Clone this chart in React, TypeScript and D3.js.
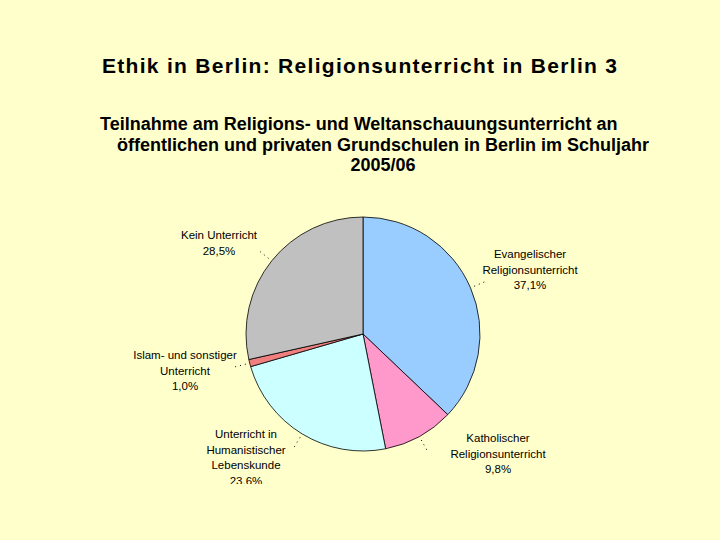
import React from "react";
import * as d3 from "d3";

const categories = [
  "Evangelischer Religionsunterricht",
  "Katholischer Religionsunterricht",
  "Unterricht in Humanistischer Lebenskunde",
  "Islam- und sonstiger Unterricht",
  "Kein Unterricht",
];
const values = [37.1, 9.8, 23.6, 1.0, 28.5];
const valueLabels = ["37,1%", "9,8%", "23,6%", "1,0%", "28,5%"];
const labelLines = [
  ["Evangelischer", "Religionsunterricht"],
  ["Katholischer", "Religionsunterricht"],
  ["Unterricht in", "Humanistischer", "Lebenskunde"],
  ["Islam- und sonstiger", "Unterricht"],
  ["Kein Unterricht"],
];
const colors = ["#99CCFF", "#FF99CC", "#CCFFFF", "#F08080", "#C0C0C0"];

const title = "Ethik in Berlin: Religionsunterricht in Berlin 3";
const subtitle = [
  "Teilnahme am Religions- und Weltanschauungsunterricht an",
  "öffentlichen und privaten Grundschulen in Berlin im Schuljahr",
  "2005/06",
];

// label layout (centre x, first baseline y)
const labelPos = [
  [530, 258],
  [498, 442],
  [246, 438],
  [185, 359],
  [219, 239],
];

export default function App() {
  const W = 720, H = 540;
  const cx = 363, cy = 334, R = 117;
  const pie = d3.pie<number>().sort(null).value((d) => d)(values);
  const arc = d3.arc<d3.PieArcDatum<number>>().innerRadius(0).outerRadius(R);
  const font = "Arial, 'Liberation Sans', sans-serif";
  const lh = 15.7;
  return (
    <svg width={W} height={H} style={{ position: "absolute", left: 0, top: 0 }}>
      <defs>
        <clipPath id="clip">
          <rect x={0} y={0} width={W} height={484} />
        </clipPath>
      </defs>
      <rect x={0} y={0} width={W} height={H} fill="#FFFFCC" />
      <text
        x={102}
        y={73}
        fontFamily={font}
        fontSize={21}
        fontWeight="bold"
        fill="#000"
        textLength={515}
        lengthAdjust="spacing"
      >
        {title}
      </text>
      <text x={100} y={130} fontFamily={font} fontSize={18} fontWeight="bold" fill="#000">
        {subtitle[0]}
      </text>
      <text x={383} y={151} textAnchor="middle" fontFamily={font} fontSize={18} fontWeight="bold" fill="#000">
        {subtitle[1]}
      </text>
      <text x={383} y={171} textAnchor="middle" fontFamily={font} fontSize={18} fontWeight="bold" fill="#000">
        {subtitle[2]}
      </text>
      <g transform={`translate(${cx},${cy})`}>
        {pie.map((p, i) => (
          <path key={categories[i]} d={arc(p) || ""} fill={colors[i]} stroke="#000" strokeWidth={0.8} />
        ))}
        {pie.map((p, i) => {
          const a = (p.startAngle + p.endAngle) / 2;
          const r1 = R + 4, r2 = R + 16;
          return (
            <line
              key={"l" + i}
              x1={Math.sin(a) * r1}
              y1={-Math.cos(a) * r1}
              x2={Math.sin(a) * r2}
              y2={-Math.cos(a) * r2}
              stroke="#000"
              strokeWidth={1}
              strokeDasharray="1,4"
            />
          );
        })}
      </g>
      <g clipPath="url(#clip)">
        {labelLines.map((lines, i) => {
          const [x, y] = labelPos[i];
          const all = [...lines, valueLabels[i]];
          return (
            <text key={"t" + i} x={x} textAnchor="middle" fontFamily={font} fontSize={11.5} fill="#000">
              {all.map((s, j) => (
                <tspan key={j} x={x} y={y + j * lh}>
                  {s}
                </tspan>
              ))}
            </text>
          );
        })}
      </g>
    </svg>
  );
}
